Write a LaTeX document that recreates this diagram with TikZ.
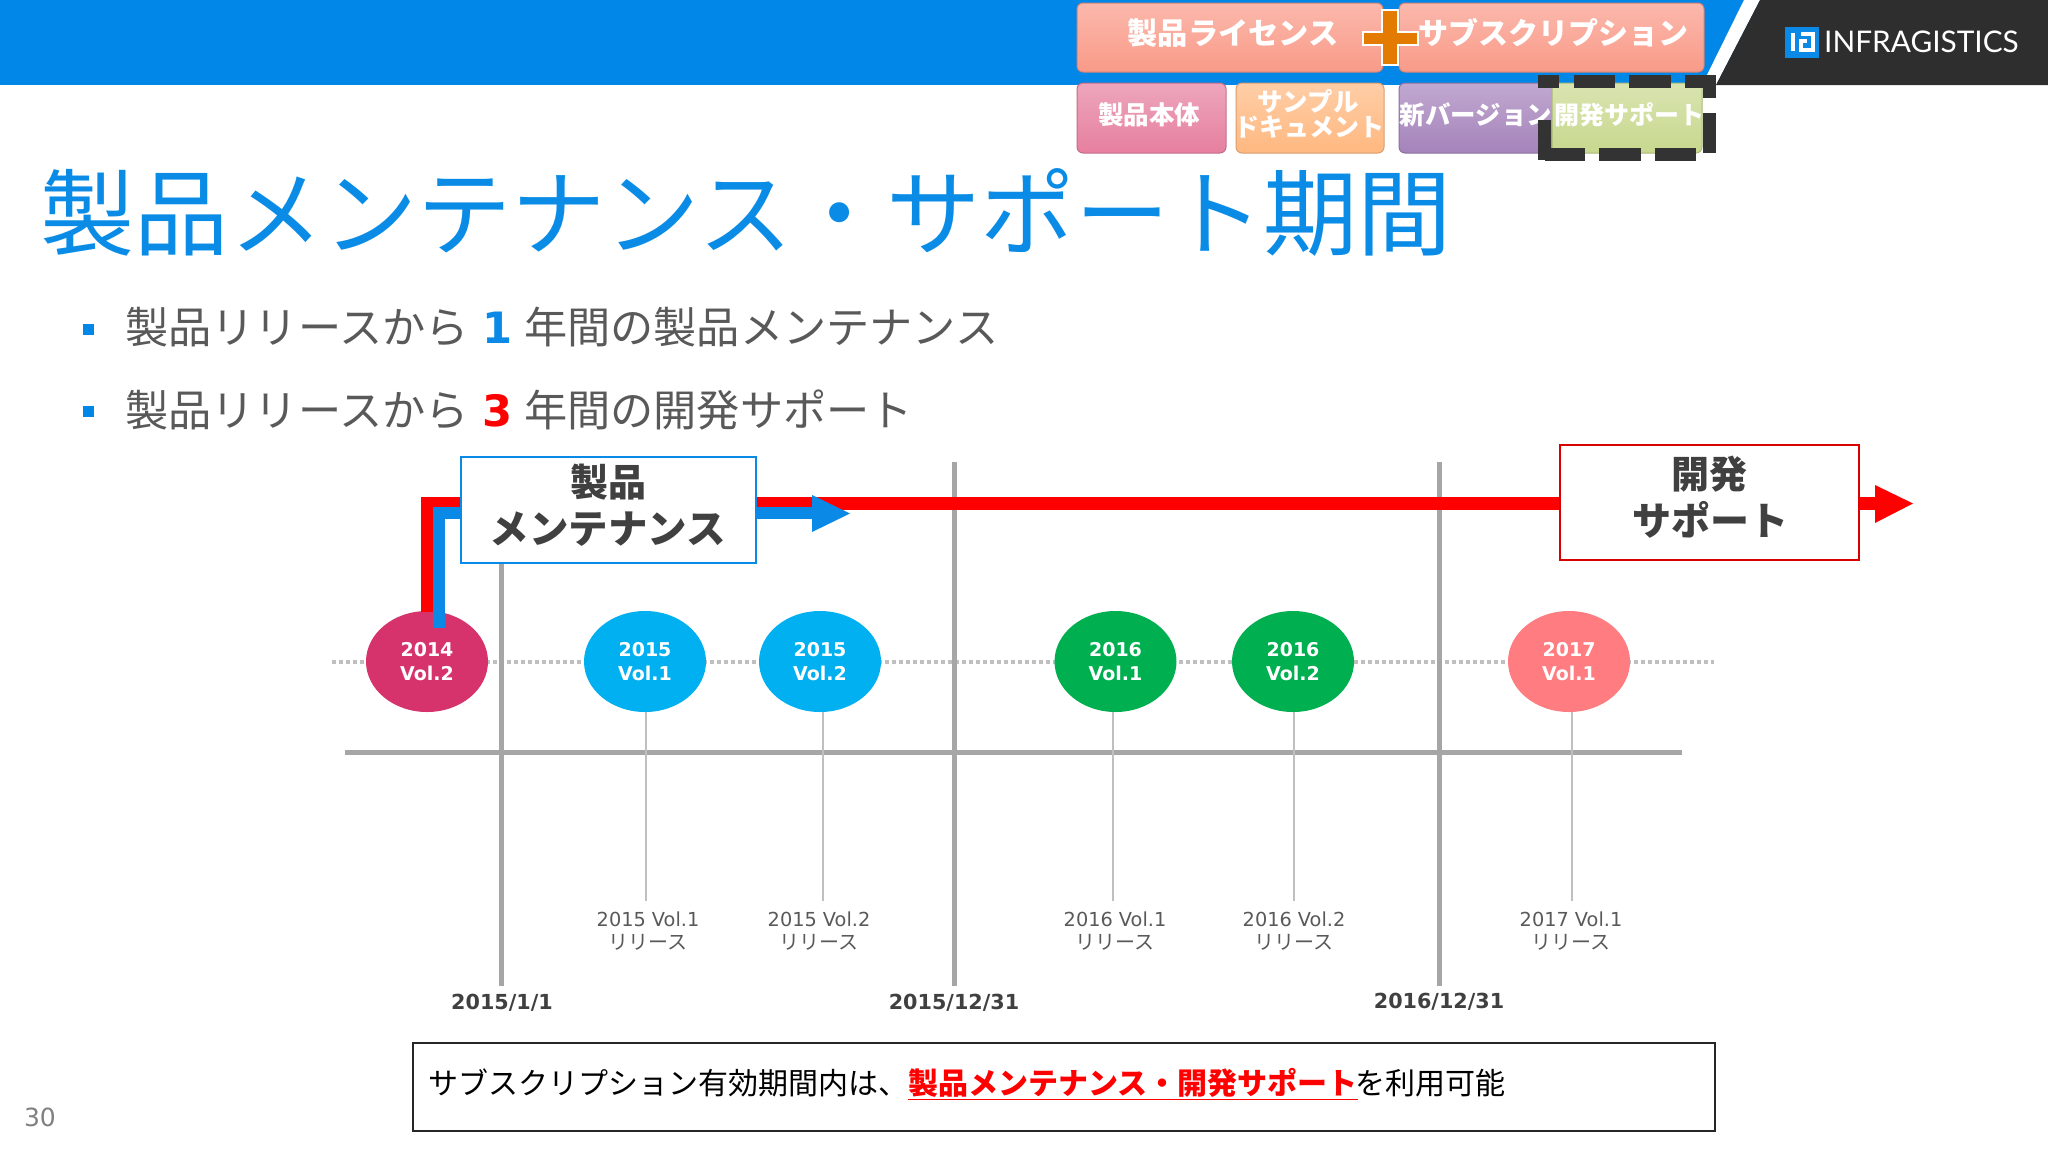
\documentclass[tikz,border=0pt]{standalone}
\usepackage{fontspec}
\setmainfont{DejaVu Sans}
\newfontfamily\cjk{Noto Sans CJK JP}
\newfontfamily\lato{Lato}
\usetikzlibrary{shapes.geometric}
\definecolor{barblue}{HTML}{0087E8}
\definecolor{titleblue}{HTML}{0A8CE6}
\definecolor{bodygrey}{HTML}{595959}
\definecolor{darkgrey}{HTML}{404040}
\definecolor{axisgrey}{HTML}{A6A6A6}
\definecolor{dotgrey}{HTML}{BFBFBF}
\definecolor{arrowblue}{HTML}{0A8AE6}
\definecolor{purered}{HTML}{FF0000}
\definecolor{tsalmon}{HTML}{F99A88}
\definecolor{tpink}{HTML}{E67FA0}
\definecolor{torange}{HTML}{FFB880}
\definecolor{tpurple}{HTML}{A583BB}
\definecolor{tgreen}{HTML}{C8D88E}
\definecolor{plusorange}{HTML}{E37B00}
\definecolor{relpink}{HTML}{D6336C}
\definecolor{relblue}{HTML}{00B0F0}
\definecolor{relgreen}{HTML}{00B050}
\definecolor{relsalmon}{HTML}{FF7C80}
\newcommand{\fs}[1]{\fontsize{#1}{#1}\selectfont}
\tikzset{
  x=1pt,y=-1pt,
  bigtile/.style={rounded corners=6pt,line width=1pt,inner sep=0pt,align=center,text=white,font=\cjk\bfseries\fs{25.5},top color=#1!70!white,bottom color=#1,draw=#1!85!black},
  tiletext/.style={text=white,font=\cjk\bfseries\fs{#1},inner sep=0pt},
  relnode/.style={ellipse,fill=#1,minimum width=122pt,minimum height=101pt,inner sep=0pt,align=center,text=white,font=\bfseries\fs{19}},
  relabel/.style={align=center,text=bodygrey,font=\fs{19.3},inner sep=0pt},
  datelabel/.style={text=darkgrey,font=\bfseries\fs{20.7},inner sep=0pt},
  spanbox/.style={draw=#1,fill=white,line width=2pt,inner sep=0pt},
  spantext/.style={text=darkgrey,font=\cjk\bfseries\fs{#1},inner sep=0pt},
  axis/.style={draw=axisgrey,line width=5pt},
  leader/.style={draw=dotgrey,line width=1.5pt},
  bullettext/.style={anchor=west,inner sep=0pt,text=bodygrey,font=\cjk\fs{43.2}},
  bulletmark/.style={fill=barblue,minimum width=11pt,minimum height=11pt,inner sep=0pt},
  dashseg/.style={draw=black!80,line width=13pt}
}
\begin{document}
\begin{tikzpicture}
\useasboundingbox (0,0) rectangle (2048,1152);
% header
\fill[barblue] (0,0) rectangle (1760,85);
\fill[white] (1744,0) -- (1760,0) -- (1716,85) -- (1702,85) -- cycle;
\fill[black!82] (1760,0) -- (2048,0) -- (2048,85) -- (1716,85) -- cycle;
% logo
\fill[arrowblue] (1785,27) rectangle (1819,58);
\fill[white] (1791,33) rectangle (1795,51);
\draw[white,line width=3.5pt] (1801,34) -- (1813,34) -- (1813,50) -- (1801,50) -- (1801,41) -- (1807,41);
\node[anchor=west,inner sep=0pt,text=white,font=\lato\fs{29.8}] (logo) at (1824,42) {INFRAGISTICS};
% tiles
\node[bigtile=tsalmon,minimum width=306pt,minimum height=69pt] (lic) at (1230,37.5) {};
\node[tiletext=30.2] (lict) at (1233,33) {製品ライセンス};
\node[bigtile=tsalmon,minimum width=305pt,minimum height=69pt] (sub) at (1551.5,37.5) {};
\node[tiletext=30] (subt) at (1553,33) {サブスクリプション};
\node[bigtile=tpink,minimum width=149pt,minimum height=70pt] (prod) at (1151.5,118) {};
\node[tiletext=25.5] (prodt) at (1149,115) {製品本体};
\node[bigtile=torange,minimum width=148pt,minimum height=70pt] (samp) at (1310,118) {};
\node[tiletext=25.5] (sampa) at (1308,101) {サンプル};
\node[tiletext=25] (sampb) at (1309,127) {ドキュメント};
\node[bigtile=tpurple,minimum width=154pt,minimum height=70pt] (newv) at (1476,118) {};
\node[tiletext=25.5] (newt) at (1476,115) {新バージョン};
\node[bigtile=tgreen,minimum width=150pt,minimum height=70pt] (dev) at (1627,118) {};
\node[tiletext=25] (devt) at (1629,115) {開発サポート};
% dashed selection frame
\foreach \a/\b in {1538/1559,1574/1615,1629/1671,1685/1716}{\draw[dashseg] (\a,81.5) -- (\b,81.5);}
\foreach \a/\b in {1545/1585,1599/1641,1655/1696}{\draw[dashseg] (\a,154.5) -- (\b,154.5);}
\foreach \a/\b in {75/98,113/153}{\draw[dashseg] (1709.5,\a) -- (1709.5,\b);}
\foreach \a/\b in {75/88,120/160}{\draw[dashseg] (1544.5,\a) -- (1544.5,\b);}
% plus
\filldraw[draw=white,line width=1.5pt,fill=plusorange] (1382,10) -- (1398,10) -- (1398,32) -- (1418,32) -- (1418,45) -- (1398,45) -- (1398,65) -- (1382,65) -- (1382,45) -- (1363,45) -- (1363,32) -- (1382,32) -- cycle;
% title and bullets
\node[anchor=west,inner sep=0pt,text=titleblue,font=\cjk\fs{94.2}] (title) at (40.5,212) {製品メンテナンス・サポート期間};
\node[bulletmark] (b1) at (88,329) {};
\node[bulletmark] (b2) at (88,411) {};
\node[bullettext] (t1) at (125,327) {製品リリースから\hspace{4pt} {\fontspec{DejaVu Sans}\bfseries\textcolor{arrowblue}{1}} \hspace{2pt}年間の製品メンテナンス};
\node[bullettext] (t2) at (125,410) {製品リリースから\hspace{4pt} {\fontspec{DejaVu Sans}\bfseries\textcolor{purered}{3}} \hspace{2pt}年間の開発サポート};
% dotted line
\coordinate (dl) at (332,662);
\coordinate (dr) at (1714,662);
\draw[dotgrey,line width=4pt,dash pattern=on 4pt off 3pt] (dl) -- (dr);
% axes
\coordinate (hl) at (345,752); \coordinate (hr) at (1682,752);
\draw[axis] (hl) -- (hr);
\coordinate (v1b) at (501,986); \coordinate (v1t) at (501,560);
\coordinate (v2b) at (954.5,986); \coordinate (v2t) at (954.5,462);
\coordinate (v3b) at (1439,986); \coordinate (v3t) at (1439,462);
\draw[axis] (v1t) -- (v1b);
\draw[axis] (v2t) -- (v2b);
\draw[axis] (v3t) -- (v3b);
% leaders
\foreach \n/\x in {a/646,b/823,c/1113,d/1294,e/1572}{
  \coordinate (top\n) at (\x,700);
  \coordinate (bot\n) at (\x,901);
  \draw[leader] (top\n) -- (bot\n);
}
% release circles
\foreach \n/\x/\c/\y/\v in {z/427/relpink/2014/2,a/645/relblue/2015/1,b/820/relblue/2015/2,c/1115.5/relgreen/2016/1,d/1293/relgreen/2016/2,e/1569/relsalmon/2017/1}{
  \node[relnode=\c] (c\n) at (\x,661.5) {\y\\[4.5pt]Vol.\v};
}
% release labels
\foreach \n/\x/\t in {a/648/2015 Vol.1,b/819/2015 Vol.2,c/1115/2016 Vol.1,d/1294/2016 Vol.2,e/1571/2017 Vol.1}{
  \node[relabel] (la\n) at (\x,919) {\t};
  \node[relabel,font=\cjk\fs{20}] (lb\n) at (\x,942) {リリース};
}
% dates
\node[datelabel] (d1) at (502,1002.5) {2015/1/1};
\node[datelabel] (d2) at (954,1003) {2015/12/31};
\node[datelabel] (d3) at (1439,1002) {2016/12/31};
% maintenance/support arrows
\coordinate (rs) at (427,612);
\coordinate (rc) at (427,503.5);
\coordinate (rb) at (1878,503.5);
\coordinate (rtip) at (1913,503.5);
\coordinate (bs) at (439,628);
\coordinate (bc) at (439,513);
\coordinate (bb) at (812,513);
\coordinate (btip) at (850,513.5);
\draw[purered,line width=13pt] (rs) -- (rc) -- (rb);
\fill[purered] (1875,485) -- (rtip) -- (1875,523) -- cycle;
\draw[arrowblue,line width=12pt] (bs) -- (bc) -- (bb);
\fill[arrowblue] (812,495) -- (btip) -- (812,532) -- cycle;
\node[spanbox=arrowblue,minimum width=295pt,minimum height=106pt] (mbox) at (608.5,510) {};
\node[spantext=38] (m1) at (608,482) {製品};
\node[spantext=39.5] (m2) at (608,529) {メンテナンス};
\node[spanbox=purered!85!black,minimum width=299pt,minimum height=115pt] (sbox) at (1709.5,502.5) {};
\node[spantext=38] (s1) at (1709,474) {開発};
\node[spantext=39] (s2) at (1710,520) {サポート};
% note
\node[draw=black!85,line width=1.5pt,minimum width=1302pt,minimum height=88pt,inner sep=0pt] (note) at (1064,1087) {};
\node[anchor=west,inner sep=0pt,text=black,font=\cjk\fs{30}] (notet) at (428,1084) {サブスクリプション有効期間内は、{\color{purered}\bfseries\fs{30}\underline{製品メンテナンス・開発サポート}}\hspace{-2pt}を利用可能};
% page number
\node[inner sep=0pt,text=black!50,font=\fs{25}] (pg) at (40,1117) {30};
\end{tikzpicture}
\end{document}
